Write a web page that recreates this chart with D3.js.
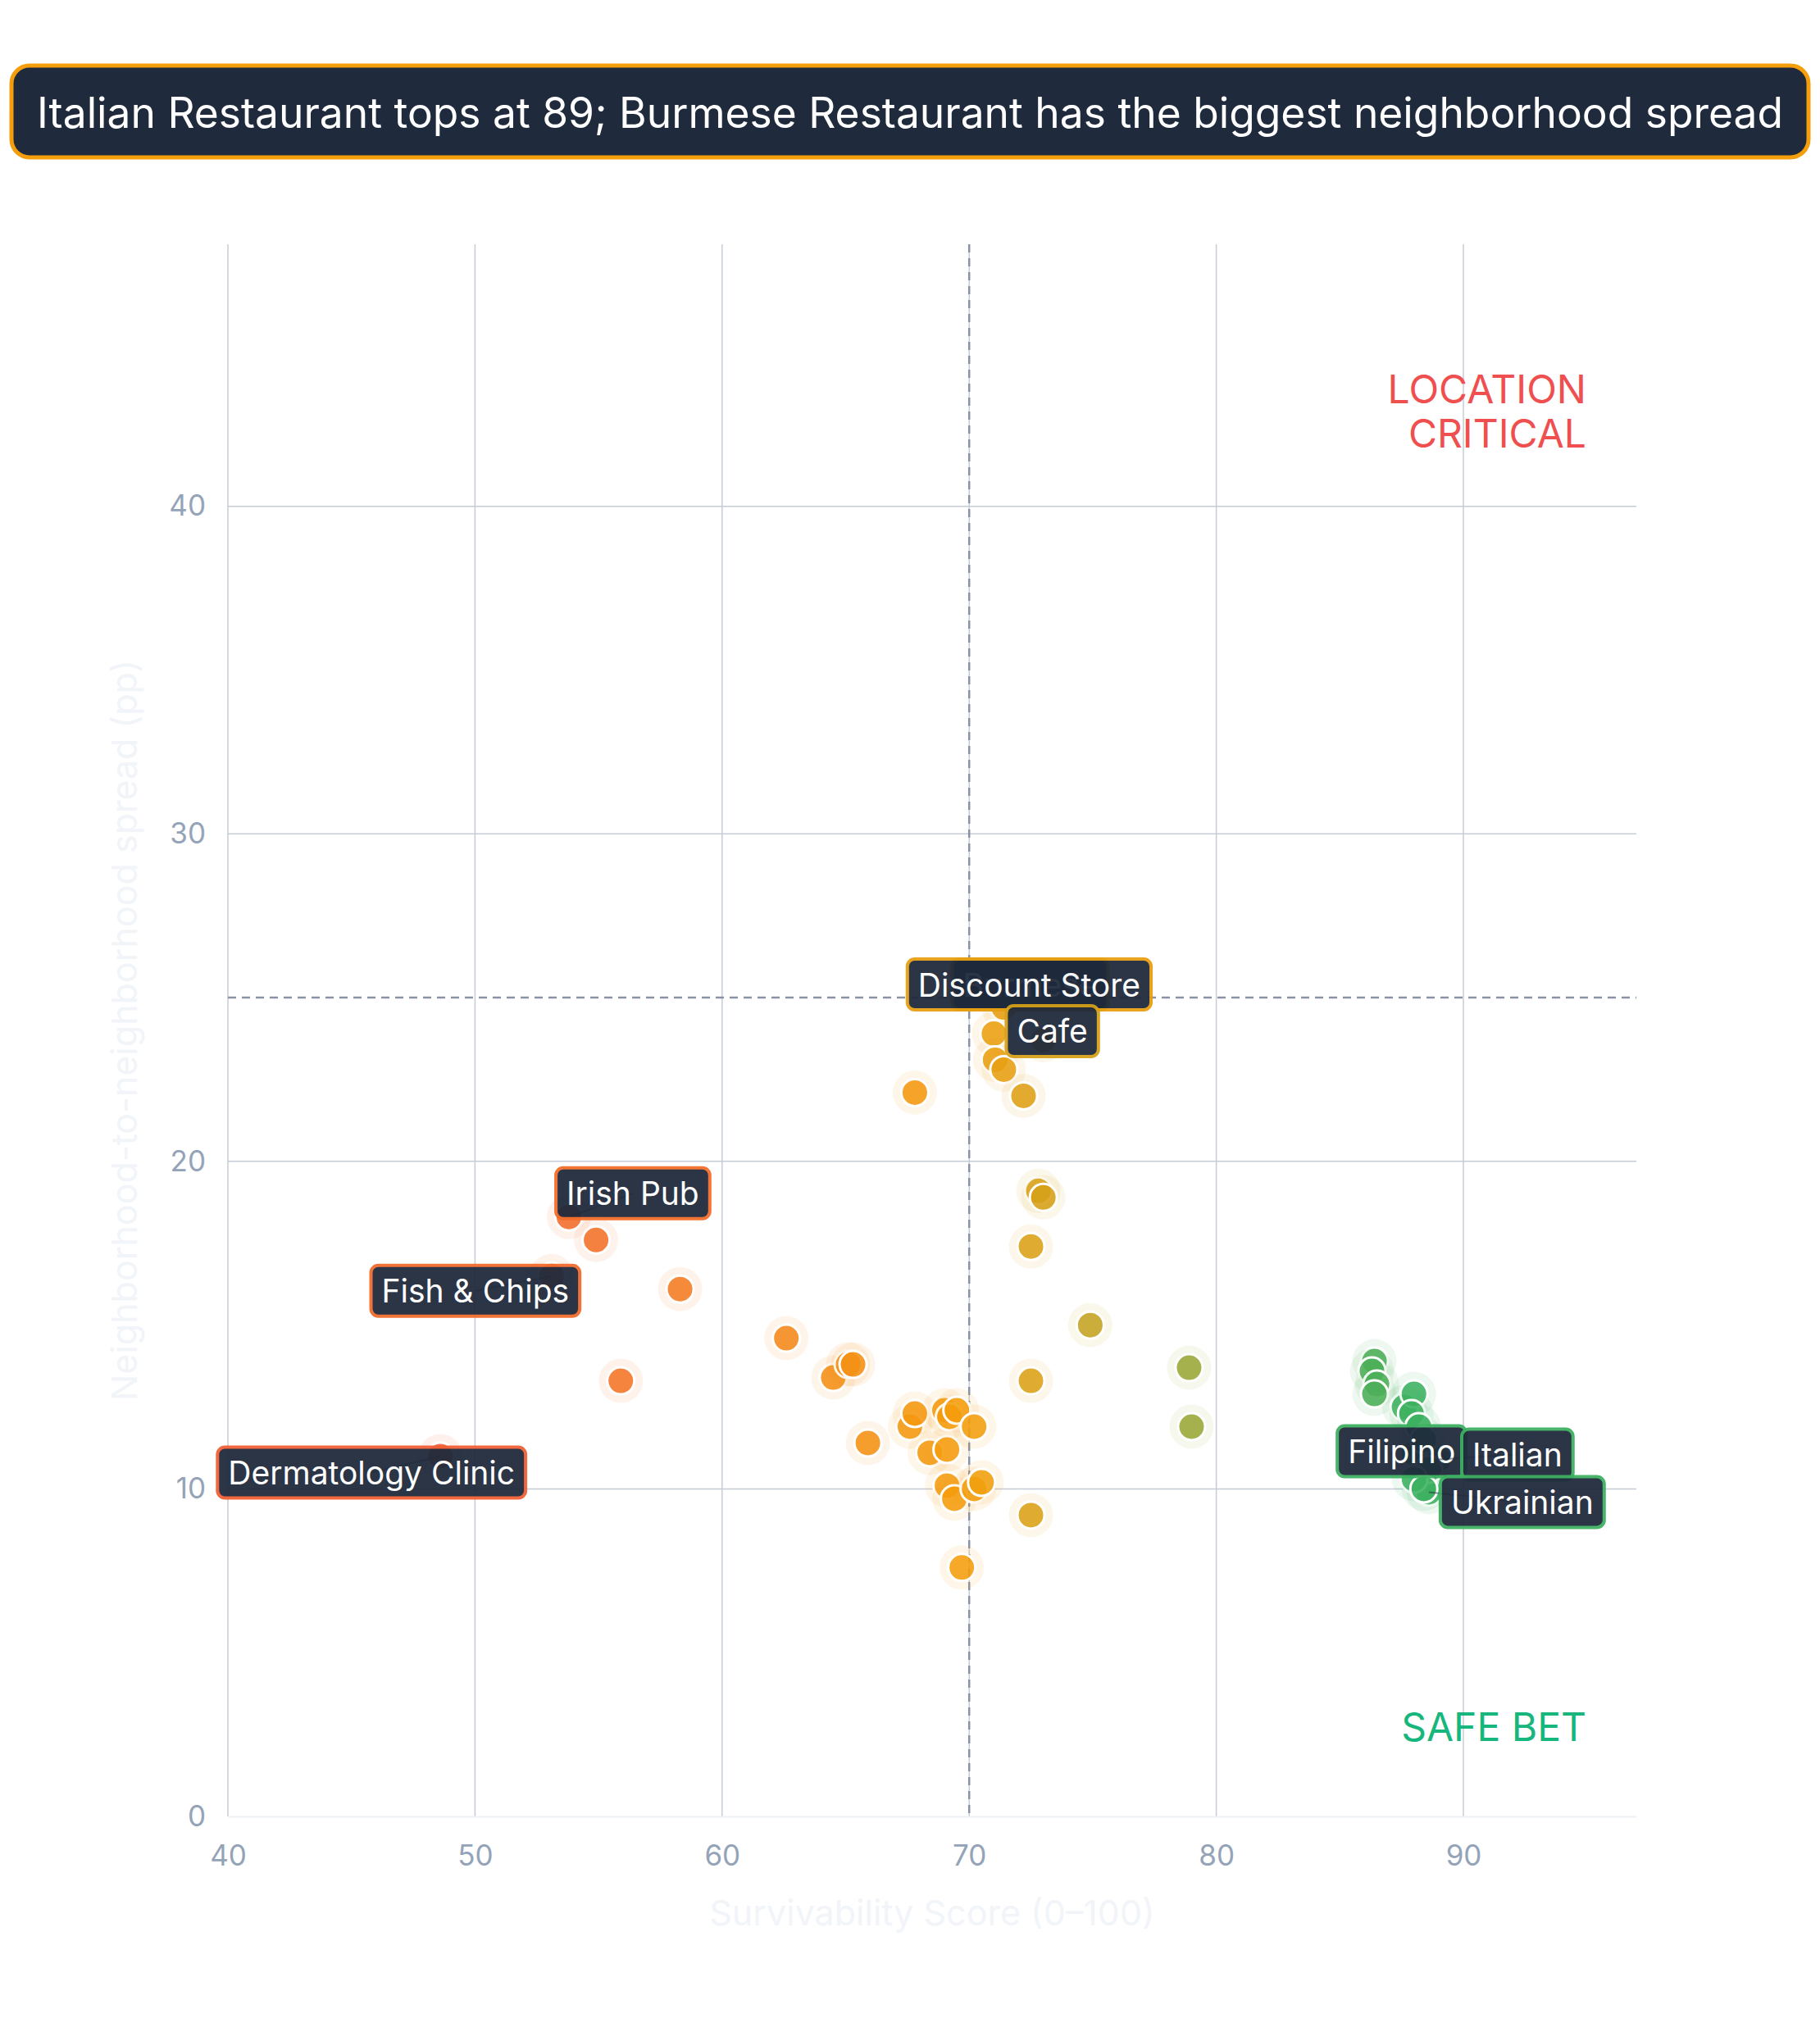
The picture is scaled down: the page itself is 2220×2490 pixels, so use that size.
<!DOCTYPE html>
<html>
<head>
<meta charset="utf-8">
<script src="https://cdn.jsdelivr.net/npm/d3@7"></script>
<style>
  body { margin: 0; background: #ffffff; }
  svg { display: block; font-family: Inter, "Liberation Sans", sans-serif; }
</style>
</head>
<body>
<div id="chart"></div>
<script>
// chart values
// first nine points are the labelled ones (same order as names)
var names = ["Dermatology Clinic", "Fish & Chips", "Irish Pub", "Burmese", "Discount Store",
             "Cafe", "Filipino", "Italian", "Ukrainian"];

var scores = [48.6, 53.1, 53.8, 72.3, 71.4, 73.0, 88.0, 89.0, 88.6,
  54.9, 58.3, 55.9, 62.6, 64.5, 65.1, 65.3, 65.9, 67.8, 67.6,
  67.8, 68.4, 69.0, 69.1, 69.2, 69.5, 70.2, 69.1, 69.4, 70.2,
  70.5, 69.7, 71.0, 71.05, 71.4, 72.2, 72.8, 73.0, 72.5, 72.5,
  72.5, 74.9, 78.9, 79.0, 86.4, 86.3, 86.5, 86.4, 87.6, 88.0,
  87.9, 88.2, 88.4, 88.6, 88.0, 88.4];

var spreads = [11.0, 16.5, 18.3, 25.2, 24.7, 23.7, 11.1, 10.9, 9.9,
  17.6, 16.1, 13.3, 14.6, 13.4, 13.8, 13.8, 11.4, 22.1, 11.9,
  12.3, 11.1, 12.4, 11.2, 12.2, 12.4, 11.9, 10.1, 9.7, 10.0,
  10.2, 7.6, 23.9, 23.1, 22.8, 22.0, 19.1, 18.9, 17.4, 13.3,
  9.2, 15.0, 13.7, 11.9, 13.9, 13.6, 13.2, 12.9, 12.5, 12.9,
  12.3, 11.9, 11.5, 10.6, 10.3, 10.0];

var xTicks = [40, 50, 60, 70, 80, 90];
var yTicks = [0, 10, 20, 30, 40];
var xDomain = [40, 97];
var yDomain = [0, 48];
var scoreCut = 70;   // vertical reference
var spreadCut = 25;  // horizontal reference

var title = "Italian Restaurant tops at 89; Burmese Restaurant has the biggest neighborhood spread";

// label nudges in px from each labelled point (layout only)
var labelNudge = [[-84, 20], [-93, 18], [78, -29], [5, -8], [31, -28], [11, -11],
                  [-15, -2], [96, -6], [114, 12]];
// draw order so overlaps stack like the reference
var labelOrder = [3, 4, 5, 0, 1, 2, 6, 7, 8];

var svgWidth = 2220;
var svgHeight = 2490;
var margin = { top: 298, right: 224, bottom: 274, left: 278 };
var chart_width = svgWidth - margin.left - margin.right;
var chart_height = svgHeight - margin.top - margin.bottom;

var svg = d3.select("#chart")
    .append("svg")
    .attr("width", svgWidth)
    .attr("height", svgHeight);

// title pill
svg.append("rect")
    .attr("x", 14).attr("y", 80)
    .attr("width", 2192).attr("height", 112)
    .attr("rx", 22)
    .attr("fill", "#1f2a3d")
    .attr("stroke", "#f59e0b")
    .attr("stroke-width", 5);

svg.append("text")
    .attr("x", 1110).attr("y", 137)
    .attr("text-anchor", "middle")
    .attr("dominant-baseline", "central")
    .attr("font-size", "51.5px")
    .attr("fill", "#ffffff")
    .text(title);

var chart_group = svg.append("g")
    .attr("transform", `translate(${margin.left}, ${margin.top})`);

var x = d3.scaleLinear().domain(xDomain).range([0, chart_width]);
var y = d3.scaleLinear().domain(yDomain).range([chart_height, 0]);

// colour runs red-orange -> amber -> green with the score
var color = d3.scaleLinear()
    .domain([40, 70, 88])
    .range(["#ef4444", "#f59e0b", "#3cb060"])
    .clamp(true);

// grid
chart_group.append("g")
    .selectAll("line")
    .data(xTicks)
    .enter()
    .append("line")
    .attr("x1", d => x(d)).attr("x2", d => x(d))
    .attr("y1", 0).attr("y2", chart_height)
    .attr("stroke", "#c6ccd6")
    .attr("stroke-width", 1.5);

chart_group.append("g")
    .selectAll("line")
    .data(yTicks.filter(d => d > 0))
    .enter()
    .append("line")
    .attr("x1", 0).attr("x2", chart_width)
    .attr("y1", d => y(d)).attr("y2", d => y(d))
    .attr("stroke", "#c6ccd6")
    .attr("stroke-width", 1.5);

// axes
var xAxis = d3.axisBottom(x).tickValues(xTicks).tickSize(0).tickPadding(35);
var yAxis = d3.axisLeft(y).tickValues(yTicks).tickSize(0).tickPadding(27);

var xg = chart_group.append("g")
    .attr("transform", `translate(0, ${chart_height})`)
    .call(xAxis);
xg.select(".domain").attr("stroke", "#eef1f5").attr("stroke-width", 2);

var yg = chart_group.append("g").call(yAxis);
yg.select(".domain").remove();

chart_group.selectAll(".tick text")
    .attr("font-family", "Inter, 'Liberation Sans', sans-serif")
    .attr("font-size", "35px")
    .attr("fill", "#94a3b8");

// reference lines
chart_group.append("line")
    .attr("x1", x(scoreCut)).attr("x2", x(scoreCut))
    .attr("y1", 0).attr("y2", chart_height)
    .attr("stroke", "#8a93a5")
    .attr("stroke-width", 2.5)
    .attr("stroke-dasharray", "10,7");

chart_group.append("line")
    .attr("x1", 0).attr("x2", chart_width)
    .attr("y1", y(spreadCut)).attr("y2", y(spreadCut))
    .attr("stroke", "#8a93a5")
    .attr("stroke-width", 2.5)
    .attr("stroke-dasharray", "10,7");

// axis titles (very faint in the reference)
chart_group.append("text")
    .attr("x", chart_width / 2)
    .attr("y", chart_height + 117)
    .attr("text-anchor", "middle")
    .attr("dominant-baseline", "central")
    .attr("font-size", "43px")
    .attr("fill", "#f1f4f8")
    .text("Survivability Score (0–100)");

chart_group.append("text")
    .attr("transform", "rotate(-90)")
    .attr("x", -chart_height / 2)
    .attr("y", -127)
    .attr("text-anchor", "middle")
    .attr("dominant-baseline", "central")
    .attr("font-size", "43px")
    .attr("fill", "#f1f4f8")
    .text("Neighborhood-to-neighborhood spread (pp)");

// quadrant notes
var note = chart_group.append("text")
    .attr("text-anchor", "end")
    .attr("font-size", "48px")
    .attr("fill", "#ef4f4f");
note.append("tspan").attr("x", 1657).attr("y", 194).text("LOCATION");
note.append("tspan").attr("x", 1657).attr("y", 248).text("CRITICAL");

chart_group.append("text")
    .attr("x", 1657).attr("y", 1826)
    .attr("text-anchor", "end")
    .attr("font-size", "48px")
    .attr("fill", "#17b67c")
    .text("SAFE BET");

// points
var points = scores.map(function (s, i) {
    return { score: s, spread: spreads[i], name: i < names.length ? names[i] : null };
});

var dots = chart_group.append("g")
    .selectAll("g")
    .data(points)
    .enter()
    .append("g")
    .attr("transform", d => `translate(${x(d.score)}, ${y(d.spread)})`);

dots.append("circle")
    .attr("r", 27)
    .attr("fill", d => color(d.score))
    .attr("opacity", 0.09);

dots.append("circle")
    .attr("r", 16.5)
    .attr("fill", d => color(d.score))
    .attr("fill-opacity", 0.88)
    .attr("stroke", "#ffffff")
    .attr("stroke-width", 3);

// labels with leader lines
var labelGroup = chart_group.append("g");

labelOrder.forEach(function (i) {
    var d = points[i];
    var px = x(d.score), py = y(d.spread);
    var lx = px + labelNudge[i][0], ly = py + labelNudge[i][1];

    labelGroup.append("line")
        .attr("x1", px).attr("y1", py)
        .attr("x2", lx).attr("y2", ly)
        .attr("stroke", "#1e293b")
        .attr("stroke-opacity", 0.5)
        .attr("stroke-width", 2);

    var g = labelGroup.append("g").attr("opacity", 0.94);
    var t = g.append("text")
        .attr("x", lx).attr("y", ly)
        .attr("text-anchor", "middle")
        .attr("dominant-baseline", "central")
        .attr("font-size", "39px")
        .attr("fill", "#ffffff")
        .text(d.name);
    var w = t.node().getComputedTextLength() + 26;
    g.insert("rect", "text")
        .attr("x", lx - w / 2).attr("y", ly - 31)
        .attr("width", w).attr("height", 62)
        .attr("rx", 9)
        .attr("fill", "#1e293b")
        .attr("stroke", color(d.score))
        .attr("stroke-width", 4);
});
</script>
</body>
</html>
